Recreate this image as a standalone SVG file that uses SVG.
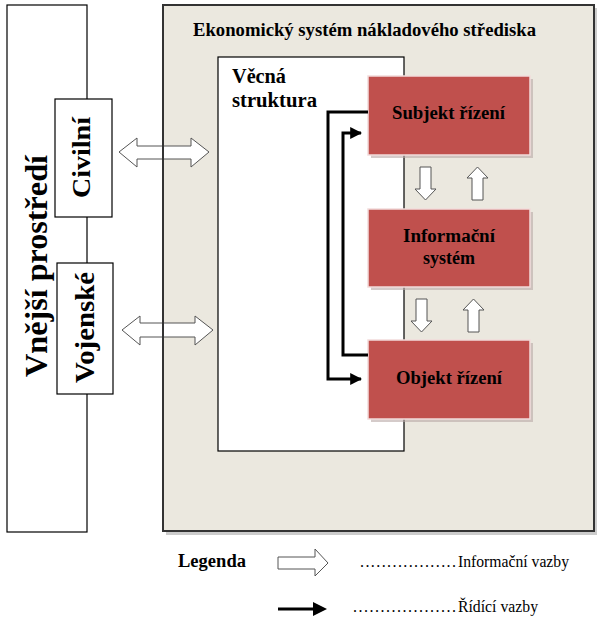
<svg xmlns="http://www.w3.org/2000/svg" width="603" height="632" viewBox="0 0 603 632">
<defs>
<style>
text{font-family:"Liberation Serif","DejaVu Serif","Times New Roman",serif;fill:#000}
.b{font-weight:bold}
.red{fill:#c0504d;stroke:#f2dcdb;stroke-width:1.5}
.shadow{fill:#b9a8a7;opacity:0.6}
.hollow{fill:#fff;stroke:#555;stroke-width:1}
.ctrl{fill:none;stroke:#000;stroke-width:3}
</style>
<marker id="ah" viewBox="0 0 10 10" refX="9" refY="5" markerWidth="4" markerHeight="4" orient="auto" markerUnits="strokeWidth">
<path d="M0,0 L10,5 L0,10 Z" fill="#000"/>
</marker>
</defs>
<rect width="603" height="632" fill="#fff"/>

<g id="vnejsi">
<rect x="7" y="5" width="80" height="527" fill="#fff" stroke="#000" stroke-width="1.2"/>
<text class="b" font-size="32" transform="translate(47,377) rotate(-90)" textLength="222" lengthAdjust="spacingAndGlyphs">Vnější prostředí</text>
</g>
<g id="civilni">
<rect x="55" y="99" width="57" height="118" fill="#fff" stroke="#000" stroke-width="1.2"/>
<text class="b" font-size="26" transform="translate(90,198) rotate(-90)" textLength="81" lengthAdjust="spacingAndGlyphs">Civilní</text>
</g>
<g id="vojenske">
<rect x="57" y="263" width="56" height="131" fill="#fff" stroke="#000" stroke-width="1.2"/>
<text class="b" font-size="27" transform="translate(94,383) rotate(-90)" textLength="111" lengthAdjust="spacingAndGlyphs">Vojenské</text>
</g>

<g id="ekonomicky">
<rect x="166" y="8" width="431" height="527" fill="#9a9a9a" opacity="0.5"/>
<rect x="163" y="5" width="431" height="526" fill="#ebe8df" stroke="#333" stroke-width="2"/>
<text class="b" font-size="18.5" x="193" y="36" textLength="343" lengthAdjust="spacingAndGlyphs">Ekonomický systém nákladového střediska</text>
</g>

<g id="vecna">
<rect x="218" y="57" width="186" height="394" fill="#fff" stroke="#000" stroke-width="1.2"/>
<text class="b" font-size="20.5" x="232" y="83" textLength="54" lengthAdjust="spacingAndGlyphs">Věcná</text>
<text class="b" font-size="20.5" x="232" y="107" textLength="85" lengthAdjust="spacingAndGlyphs">struktura</text>
</g>

<g id="subjekt">
<rect class="shadow" x="371" y="79" width="162" height="79"/>
<rect class="red" x="368" y="76" width="162" height="79"/>
<text class="b" font-size="18.5" x="392" y="119" textLength="113" lengthAdjust="spacingAndGlyphs">Subjekt řízení</text>
</g>
<g id="informacni">
<rect class="shadow" x="371" y="212" width="162" height="78"/>
<rect class="red" x="368" y="209" width="162" height="78"/>
<text class="b" font-size="18.5" x="403" y="242" textLength="92" lengthAdjust="spacingAndGlyphs">Informační</text>
<text class="b" font-size="18.5" x="423" y="264" textLength="52" lengthAdjust="spacingAndGlyphs">systém</text>
</g>
<g id="objekt">
<rect class="shadow" x="371" y="343" width="162" height="79"/>
<rect class="red" x="368" y="340" width="162" height="79"/>
<text class="b" font-size="18.5" x="396" y="384" textLength="106" lengthAdjust="spacingAndGlyphs">Objekt řízení</text>
</g>

<g id="connectors">
<path class="hollow" d="M119,152 L137,138 L137,146 L191,146 L191,138 L209,152 L191,167 L191,159 L137,159 L137,167 Z"/>
<path class="hollow" d="M122,330 L140,316 L140,323 L195,323 L195,316 L213,330 L195,345 L195,337 L140,337 L140,345 Z"/>
<line x1="163" y1="138" x2="163" y2="168" stroke="#333" stroke-width="2"/>
<line x1="163" y1="315" x2="163" y2="346" stroke="#333" stroke-width="2"/>
<path class="hollow" d="M420,167 L431,167 L431,189 L436,189 L425.5,200 L415,189 L420,189 Z"/>
<path class="hollow" d="M472,200 L483,200 L483,178 L488,178 L477.5,167 L467,178 L472,178 Z"/>
<path class="hollow" d="M416,299 L427,299 L427,321 L432,321 L421.5,332 L411,321 L416,321 Z"/>
<path class="hollow" d="M468,332 L479,332 L479,310 L484,310 L473.5,299 L463,310 L468,310 Z"/>
<path class="ctrl" d="M368,112 H328 V379 H361" marker-end="url(#ah)"/>
<path class="ctrl" d="M368,355 H343 V133 H361" marker-end="url(#ah)"/>
</g>

<g id="legenda">
<text class="b" font-size="18.5" x="178" y="567" textLength="68" lengthAdjust="spacingAndGlyphs">Legenda</text>
<path class="hollow" d="M278,557 L315,557 L315,549 L328,563 L315,576 L315,569 L278,569 Z"/>
<text font-size="16" x="360" y="567" textLength="96" lengthAdjust="spacing">..................</text>
<text font-size="16" x="458" y="567" textLength="111" lengthAdjust="spacingAndGlyphs">Informační vazby</text>
<line x1="278" y1="609" x2="318" y2="609" stroke="#000" stroke-width="3"/>
<path d="M313,602 L327,609 L313,616 Z" fill="#000"/>
<text font-size="16" x="353" y="612" textLength="103" lengthAdjust="spacing">...................</text>
<text font-size="16" x="458" y="612" textLength="80" lengthAdjust="spacingAndGlyphs">Řídící vazby</text>
</g>
</svg>
